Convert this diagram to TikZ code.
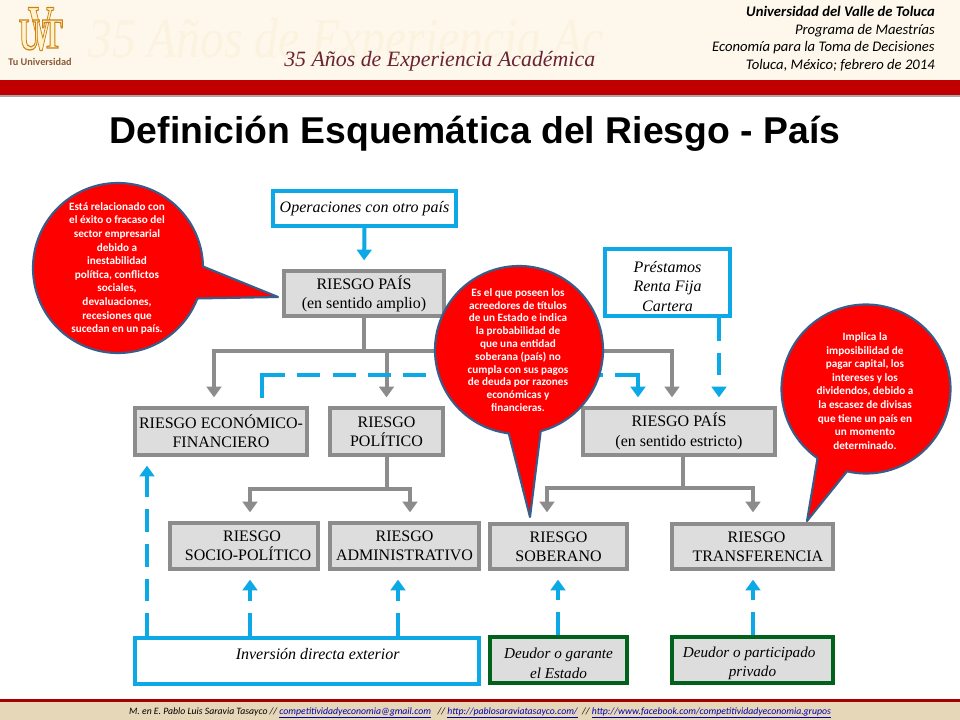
\documentclass[tikz,border=0pt]{standalone}
\usepackage{fontspec}
\setmainfont{Liberation Serif}
\newfontfamily\carlitofont{Carlito}
\newfontfamily\arialfont{Liberation Sans}
\usetikzlibrary{arrows.meta,calc}
\definecolor{creamback}{HTML}{FEF8EC}
\definecolor{creamtext}{HTML}{FBF2DF}
\definecolor{wine}{HTML}{6B2333}
\definecolor{bandred}{HTML}{C00000}
\definecolor{sandback}{HTML}{E6D7B9}
\definecolor{boxgrey}{HTML}{DDDDDD}
\definecolor{linegrey}{HTML}{8C8C8C}
\definecolor{skyblue}{HTML}{0DA8E6}
\definecolor{deepgreen}{HTML}{00621B}
\definecolor{bubbleline}{HTML}{385D8A}
\definecolor{logobrown}{HTML}{8A5A3A}
\newcommand\logoglyph[1]{\special{pdf:code q 2 Tr 0.9 w 0.80 0.50 0.06 RG 1 0.95 0.80 rg}#1\special{pdf:code Q}}
\newcommand\pushdown[1]{\rule{0pt}{#1}}
\tikzset{
  sizedbox/.style 2 args={rectangle,draw,line width=3pt,inner sep=0pt,align=center,
    minimum width=#1*0.75pt-3pt,minimum height=#2*0.75pt-3pt,
    font=\fontsize{12}{14.5}\selectfont},
  riskbox/.style 2 args={sizedbox={#1}{#2},draw=linegrey,fill=boxgrey},
  sourcebox/.style 2 args={sizedbox={#1}{#2},draw=skyblue,fill=white,font=\fontsize{12}{14.5}\itshape},
  debtorbox/.style 2 args={sizedbox={#1}{#2},draw=deepgreen,fill=boxgrey,font=\fontsize{11.4}{14.5}\itshape},
  greyline/.style={draw=linegrey,line width=3pt},
  greyarrow/.style={greyline,-{Triangle[width=11pt,length=8pt]},shorten >=6.5pt},
  blueline/.style={draw=skyblue,line width=3pt},
  bluearrow/.style={blueline,-{Triangle[width=11pt,length=8pt]},shorten >=6.5pt},
  bluedash/.style={bluearrow,dash pattern=on 17pt off 9pt},
  bubble/.style={draw=bubbleline,line width=1.6pt,fill=red,line join=round},
  bubbletext/.style={text=white,align=center,inner sep=0pt},
  logofont/.style={inner sep=0pt,font=\fontsize{#1}{#1}\bfseries},
}
\begin{document}
\begin{tikzpicture}[x=0.75pt,y=-0.75pt]
\useasboundingbox (0,0) rectangle (960,720);
% header and footer
\fill[white] (0,0) rectangle (960,720);
\fill[creamback] (0,0) rectangle (960,80);
\fill[black!35] (0,95) rectangle (960,97);
\fill[bandred] (0,80) rectangle (960,95);
\fill[sandback] (0,699) rectangle (960,720);
\fill[bandred!85!black] (0,699) rectangle (960,701.5);
\node[anchor=base west,inner sep=0pt,text=creamtext,xscale=.85,font=\fontsize{42}{42}\itshape] (watermark) at (88,58) {35 Años de Experiencia Ac};
\node[anchor=base west,inner sep=0pt,text=wine,font=\fontsize{16.4}{17}\itshape] (slogan) at (284,67) {35 Años de Experiencia Académica};
\node[logofont=48,xscale=.57] (logov) at (41,29) {\logoglyph{V}};
\node[logofont=34,xscale=.65] (logou) at (29.5,35) {\logoglyph{U}};
\node[logofont=32,xscale=.73] (logot) at (52.5,34) {\logoglyph{T}};
\node[inner sep=0pt,text=logobrown,font=\carlitofont\fontsize{7.7}{8}\bfseries] (tuuni) at (40,62) {Tu Universidad};
\node[anchor=north east,inner sep=0pt,align=right,font=\carlitofont\fontsize{11}{13.2}\itshape] (school) at (935,6)
  {\textbf{Universidad del Valle de Toluca}\\Programa de Maestrías\\Economía para la Toma de Decisiones\\Toluca, México; febrero de 2014};
\node[anchor=base,inner sep=0pt,font=\arialfont\fontsize{28}{30}\bfseries] (title) at (475,143.5) {Definición Esquemática del Riesgo - País};
\node[inner sep=0pt,anchor=base,font=\carlitofont\fontsize{7.3}{8}\itshape] (credits) at (480,714)
  {M. en E. Pablo Luis Saravia Tasayco // \textcolor{blue!70!black}{\underline{competitividadyeconomia@gmail.com}} \ \ // \textcolor{blue!70!black}{\underline{http://pablosaraviatasayco.com/}} \ // \textcolor{blue!70!black}{\underline{http://www.facebook.com/competitividadyeconomia.grupos}}};
% boxes
\node[sourcebox={187}{39}] (operaciones) at (364.5,208.5) {Operaciones con otro país};
\node[riskbox={164}{49}] (amplio) at (364,293.5) {\pushdown{11pt}RIESGO PAÍS\\(en sentido amplio)};
\node[sourcebox={129}{71}] (prestamos) at (667.5,282.5) {\pushdown{14pt}Préstamos\\Renta Fija\\Cartera};
\node[riskbox={196}{51}] (estricto) at (679,431.5) {RIESGO PAÍS\\(en sentido estricto)};
\node[riskbox={176}{51}] (economico) at (221,431.5) {RIESGO ECONÓMICO-\\FINANCIERO};
\node[riskbox={117}{51}] (politico) at (386.5,431.5) {RIESGO\\POLÍTICO};
\node[riskbox={152}{50}] (socio) at (244,546) {\hspace*{12pt}RIESGO\\\hspace*{6pt}SOCIO-POLÍTICO};
\node[riskbox={153}{50}] (admin) at (404.5,546) {RIESGO\\ADMINISTRATIVO};
\node[riskbox={141}{49}] (soberano) at (558.5,546.5) {RIESGO\\SOBERANO};
\node[riskbox={165}{49}] (transfer) at (752.5,546.5) {\hspace*{6pt}RIESGO\\\hspace*{8pt}TRANSFERENCIA};
\node[sourcebox={348}{50}] (inversion) at (307,661) {\raisebox{1pt}[0pt][0pt]{\hspace*{16pt}Inversión directa exterior}};
\node[debtorbox={141}{50}] (deudorest) at (558.5,660) {\pushdown{13pt}Deudor o garante\\el Estado};
\node[debtorbox={165}{50}] (deudorpriv) at (752.5,660) {\pushdown{13pt}\hspace*{-5pt}Deudor o participado\\privado};
% grey tree
\coordinate (bustop) at (364,351);
\coordinate (ecotop) at (214,406);
\coordinate (paistop) at (672,406);
\coordinate (buspol) at (386.5,489);
\coordinate (socitop) at (250,521);
\coordinate (admtop) at (410,521);
\coordinate (busest) at (683,488);
\coordinate (sobtop) at (547,521);
\coordinate (trantop) at (753,521);
\draw[greyline] (amplio.south) -- (bustop);
\draw[greyarrow] (bustop) -| (ecotop);
\draw[greyarrow] (bustop) -| (politico.north);
\draw[greyarrow] (bustop) -| (paistop);
\draw[greyline] (politico.south) -- (buspol);
\draw[greyarrow] (buspol) -| (socitop);
\draw[greyarrow] (buspol) -| (admtop);
\draw[greyline] (estricto.south -| busest) -- (busest);
\draw[greyarrow] (busest) -| (sobtop);
\draw[greyarrow] (busest) -| (trantop);
% blue links
\coordinate (prestout) at (719,318);
\coordinate (prestin) at (719,406);
\coordinate (crossstart) at (262,396);
\coordinate (crossup) at (262,375);
\coordinate (crossturn) at (638,375);
\coordinate (crossin) at (638,406);
\coordinate (invecoa) at (147,636);
\coordinate (invecob) at (147,457);
\coordinate (invsoca) at (250,636);
\coordinate (invsocb) at (250,571);
\coordinate (invadma) at (398,636);
\coordinate (invadmb) at (398,571);
\coordinate (deuesb) at (558,571);
\coordinate (deuprb) at (753,571);
\draw[bluearrow] (operaciones.south) -- (amplio.north);
\draw[bluedash] (prestout) -- (prestin);
\draw[blueline,line cap=rect] (crossstart) -- (crossup);
\draw[blueline,dash pattern=on 17.25pt off 9.25pt] (crossup) -- (crossturn);
\draw[bluearrow,line cap=rect] (crossturn) -- (crossin);
\draw[bluedash] (invecoa) -- (invecob);
\draw[bluedash] (invsoca) -- (invsocb);
\draw[bluedash] (invadma) -- (invadmb);
\draw[bluedash] (deudorest.north -| deuesb) -- (deuesb);
\draw[bluedash] (deudorpriv.north -| deuprb) -- (deuprb);
% call-outs
\draw[bubble] (278,297) -- ($(118,268)+(-1:85)$) arc[start angle=-1,end angle=-339,radius=85] -- cycle;
\draw[bubble] (530,517) -- ($(519,350)+(75:84)$) arc[start angle=75,end angle=-263,radius=84] -- cycle;
\draw[bubble] (807,521) -- ($(866,389)+(103:84.5)$) arc[start angle=103,end angle=-235,radius=84.5] -- cycle;
\node[bubbletext,font=\carlitofont\fontsize{8.4}{10.2}\bfseries] (bubbleleft) at (117,268.5)
  {Está relacionado con\\el éxito o fracaso del\\sector empresarial\\debido a\\inestabilidad\\política, conflictos\\sociales,\\devaluaciones,\\recesiones que\\sucedan en un país.};
\node[bubbletext,font=\carlitofont\fontsize{8.4}{9.6}\bfseries] (bubblemid) at (518,350)
  {Es el que poseen los\\acreedores de títulos\\de un Estado e indica\\la probabilidad de\\que una entidad\\soberana (país) no\\cumpla con sus pagos\\de deuda por razones\\económicas y\\financieras.};
\node[bubbletext,font=\carlitofont\fontsize{8.4}{10.2}\bfseries] (bubbleright) at (865,391)
  {Implica la\\imposibilidad de\\pagar capital, los\\intereses y los\\dividendos, debido a\\la escasez de divisas\\que tiene un país en\\un momento\\determinado.};
\end{tikzpicture}
\end{document}
